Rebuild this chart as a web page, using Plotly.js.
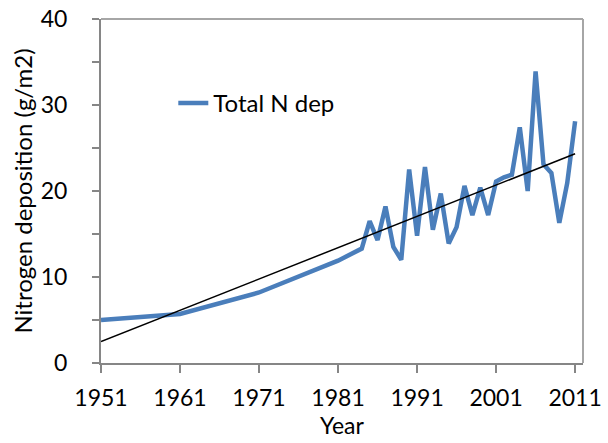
<!DOCTYPE html>
<html>
<head>
<meta charset="utf-8">
<script src="https://cdn.plot.ly/plotly-3.0.1.min.js"></script>
<style>html,body{margin:0;padding:0;background:#fff}#chart{width:608px;height:443px}</style>
</head>
<body>
<div id="chart"></div>
<script>
// Data
const years = [1951, 1961, 1971, 1981, 1984,
  1985, 1986, 1987, 1988, 1989, 1990, 1991, 1992, 1993, 1994,
  1995, 1996, 1997, 1998, 1999, 2000, 2001, 2002, 2003, 2004,
  2005, 2006, 2007, 2008, 2009, 2010, 2011];
const nDep = [5.0, 5.7, 8.2, 11.9, 13.3,
  16.5, 14.3, 18.2, 13.5, 12.0, 22.5, 14.8, 22.8, 15.5, 19.7,
  13.9, 15.8, 20.6, 17.2, 20.4, 17.2, 21.1, 21.6, 21.9, 27.4,
  20.0, 33.9, 23.1, 22.1, 16.3, 20.9, 28.1];
const seriesName = 'Total N dep';
const xTicks = [1951, 1961, 1971, 1981, 1991, 2001, 2011];
const yTicks = [0, 10, 20, 30, 40];

// Linear trend (least squares) computed from the data
const n = years.length;
const mx = years.reduce((a, b) => a + b, 0) / n;
const my = nDep.reduce((a, b) => a + b, 0) / n;
let sxy = 0, sxx = 0;
for (let i = 0; i < n; i++) { sxy += (years[i] - mx) * (nDep[i] - my); sxx += (years[i] - mx) ** 2; }
const slope = sxy / sxx, intercept = my - slope * mx;
const trendX = [years[0], years[n - 1]];
const trendY = trendX.map(x => intercept + slope * x);

const FONT = 'Lato, "Open Sans", sans-serif';
const AX = '#868686';

const traces = [
  {x: years, y: nDep, type: 'scatter', mode: 'lines', name: seriesName,
   line: {color: '#4a7ebb', width: 4.5}},
  {x: trendX, y: trendY, type: 'scatter', mode: 'lines', showlegend: false,
   line: {color: '#000000', width: 1.5}, hoverinfo: 'skip'}
];

const layout = {
  width: 608, height: 443,
  margin: {l: 101, r: 25, t: 19, b: 80},
  paper_bgcolor: '#fff', plot_bgcolor: '#fff',
  font: {family: FONT, size: 23, color: '#000'},
  showlegend: true,
  legend: {x: 0.15, y: 0.755, xanchor: 'left', yanchor: 'middle',
    bgcolor: 'rgba(0,0,0,0)', font: {family: FONT, size: 24, color: '#000'}},
  xaxis: {
    range: [1951, 2012], tickvals: xTicks, ticktext: xTicks.map(String),
    showgrid: false, zeroline: false,
    showline: true, linecolor: AX, linewidth: 2,
    ticks: 'outside', ticklen: 8, tickwidth: 2, tickcolor: AX,
    ticklabelstandoff: 5,
    tickfont: {family: FONT, size: 23, color: '#000'},
    title: {text: 'Year', font: {family: FONT, size: 23, color: '#000'}, standoff: 8},
    automargin: false
  },
  yaxis: {
    range: [0, 40], tickvals: yTicks,
    showgrid: false, zeroline: false,
    showline: true, linecolor: AX, linewidth: 2,
    ticks: 'outside', ticklen: 7, tickwidth: 2, tickcolor: AX,
    minor: {dtick: 5, tick0: 0, ticks: 'outside', ticklen: 7, tickwidth: 2, tickcolor: AX, showgrid: false},
    ticklabelstandoff: 20,
    tickfont: {family: FONT, size: 23, color: '#000'},
    title: {text: 'Nitrogen deposition (g/m2)', font: {family: FONT, size: 24, color: '#000'}, standoff: 1},
    automargin: false
  },
  shapes: [
    {type: 'line', xref: 'paper', yref: 'paper', x0: 0, x1: 1, y0: 1, y1: 1, line: {color: '#a6a6a6', width: 2}},
    {type: 'line', xref: 'paper', yref: 'paper', x0: 1, x1: 1, y0: 0, y1: 1, line: {color: '#a6a6a6', width: 2}}
  ]
};

Plotly.newPlot('chart', traces, layout, {displayModeBar: false, staticPlot: true});
</script>
</body>
</html>
